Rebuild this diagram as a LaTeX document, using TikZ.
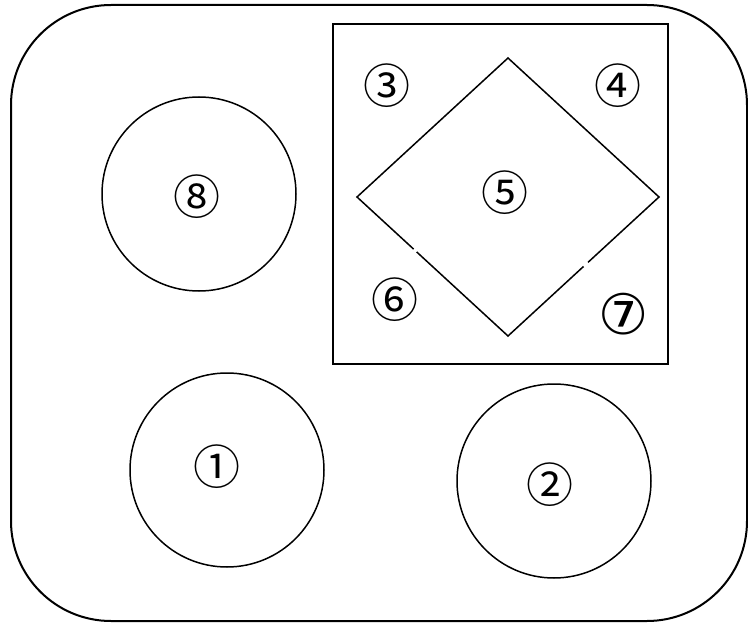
\documentclass[tikz,border=0pt]{standalone}
\usepackage{fontspec}
\usetikzlibrary{calc}
\newfontfamily\cfont{Noto Sans CJK JP}
\newfontfamily\cfontb{DejaVu Sans}
\begin{document}
\begin{tikzpicture}[x=1pt,y=-1pt,
  thinline/.style={line width=1.5pt},
  lbl/.style={font=\cfont\fontsize{47}{47}\selectfont, inner sep=0pt},
  lblb/.style={font=\cfontb\fontsize{56}{56}\selectfont, inner sep=0pt}]
\useasboundingbox (0,0) rectangle (748,623);
\draw[line width=2pt, rounded corners=100pt] (11,5) rectangle (747,621);
\draw[thinline] (333,24) rectangle (668,364);
\draw[thinline] (199,194) circle (97);
\draw[thinline] (227,470) circle (97);
\draw[thinline] (554,481) circle (97);
\coordinate (T) at (508,58);
\coordinate (L) at (357,197);
\coordinate (R) at (659,197);
\coordinate (B) at (508,336);
\draw[thinline, line join=miter] ($(L)!0.375!(B)$) -- (L) -- (T) -- (R) -- ($(R)!0.47!(B)$);
\draw[thinline] ($(L)!0.395!(B)$) -- (B) -- ($(R)!0.50!(B)$);
\node[lbl] (n3) at (387,86) {③};
\node[lbl] (n4) at (618,86) {④};
\node[lbl] (n5) at (505,193) {⑤};
\node[lbl] (n6) at (395,300) {⑥};
\node[lblb] (n7) at (624,314) {⑦};
\node[lbl] (n8) at (197,197) {⑧};
\node[lbl] (n1) at (217,467) {①};
\node[lbl] (n2) at (550,485) {②};
\end{tikzpicture}
\end{document}
